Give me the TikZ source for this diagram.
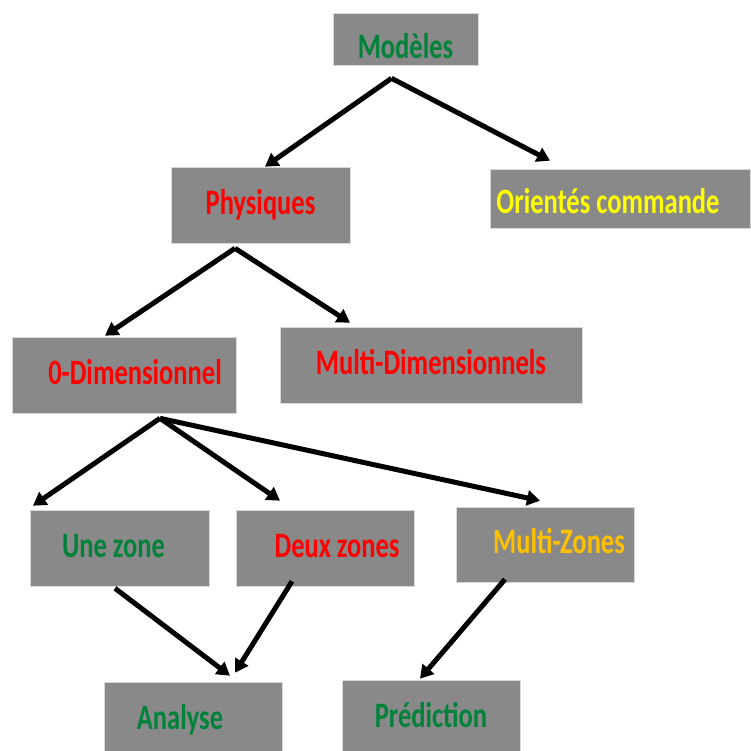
\documentclass[tikz,border=0pt]{standalone}
\usepackage{fontspec}
\setmainfont{Carlito}
\usepackage{xcolor}
\usepackage{graphicx}
\usetikzlibrary{arrows.meta}
\usetikzlibrary{positioning}

\definecolor{boxgray}{HTML}{898989}
\definecolor{txtgreen}{HTML}{00823B}
\definecolor{txtred}{HTML}{FF0000}
\definecolor{txtyellow}{HTML}{FFFF00}
\definecolor{txtorange}{HTML}{FFC000}

\newcommand{\tallt}[1]{\scalebox{1}[1.35]{#1}}

\tikzset{
  box/.style={rectangle, fill=boxgray, draw=white!85!black, line width=0.6pt,
    inner sep=0pt, text height=24pt, text depth=5pt,
    font=\fontsize{26.5}{30}\selectfont\bfseries},
  arr/.style={line width=5pt, -{Triangle[length=13pt,width=15pt]}},
}

\begin{document}
\begin{tikzpicture}[x=1pt,y=-1pt]
\useasboundingbox[fill=white] (0,0) rectangle (750,751);

% boites
\node[box, minimum width=145pt, minimum height=52pt, text=txtgreen, text height=44pt] (mod) at (405.5,39) {\tallt{Modèles}};
\node[box, minimum width=179pt, minimum height=76pt, text=txtred] (phys) at (260.5,205) {\tallt{Physiques}};
\node[box, minimum width=260pt, minimum height=59pt, text=txtyellow, text height=36pt] (orient) at (620,198.5) {\tallt{Orientés commande}\hspace*{24pt}};
\node[box, minimum width=224pt, minimum height=76pt, text=txtred] (zero) at (124,375) {\hspace*{22pt}\tallt{0-Dimensionnel}};
\node[box, minimum width=302pt, minimum height=76pt, text=txtred] (multd) at (431,365) {\tallt{Multi-Dimensionnels}};
\node[box, minimum width=179pt, minimum height=76pt, text=txtgreen] (une) at (119.5,548) {\tallt{Une zone}\hspace*{12pt}};
\node[box, minimum width=178pt, minimum height=76pt, text=txtred] (deux) at (325,548) {\hspace*{24pt}\tallt{Deux zones}};
\node[box, minimum width=178pt, minimum height=75pt, text=txtorange, text height=22pt] (multz) at (545,544.5) {\hspace*{28pt}\tallt{Multi-Zones}};
\node[box, minimum width=178pt, minimum height=76pt, text=txtgreen] (ana) at (193,720) {\tallt{Analyse}\hspace*{26pt}};
\node[box, minimum width=178pt, minimum height=76pt, text=txtgreen, text height=23pt] (pred) at (431,718) {\tallt{Prédiction}};

% fleches
\draw[arr] ([xshift=-14pt,yshift=-13pt]mod.south) -- ([xshift=4.5pt]phys.north);
\draw[arr] ([xshift=-14pt,yshift=-13pt]mod.south) -- ([xshift=-70pt,yshift=8pt]orient.north);
\draw[arr] ([xshift=-25.5pt,yshift=-5pt]phys.south) -- ([xshift=-19pt,yshift=1pt]zero.north);
\draw[arr] ([xshift=-25.5pt,yshift=-5pt]phys.south) -- ([xshift=-81pt,yshift=4pt]multd.north);
\draw[arr] ([xshift=36pt,yshift=-5pt]zero.south) -- ([xshift=-86.5pt,yshift=4pt]une.north);
\draw[arr] ([xshift=36pt,yshift=-5pt]zero.south) -- ([xshift=-45pt,yshift=9pt]deux.north);
\draw[arr] ([xshift=36pt,yshift=-5pt]zero.south) -- ([xshift=-5pt,yshift=6pt]multz.north);
\draw[arr] ([xshift=-4.5pt,yshift=-2pt]une.south) -- ([xshift=37pt,yshift=6pt]ana.north);
\draw[arr] ([xshift=-33pt,yshift=5pt]deux.south) -- ([xshift=42pt,yshift=9pt]ana.north);
\draw[arr] ([xshift=-40pt,yshift=3pt]multz.south) -- ([xshift=-11pt,yshift=1pt]pred.north);
\end{tikzpicture}
\end{document}
